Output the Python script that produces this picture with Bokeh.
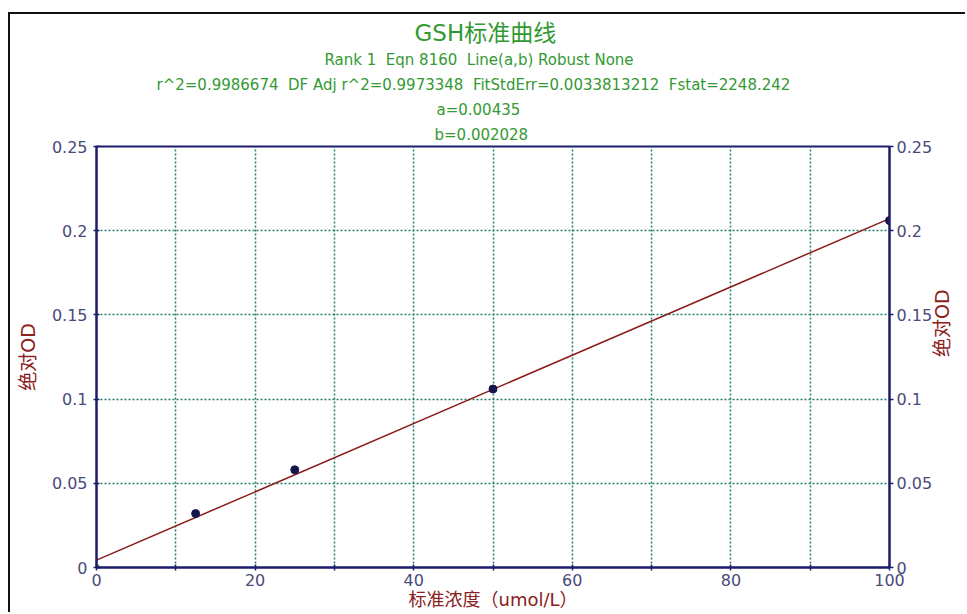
import math
from bokeh.plotting import figure
from bokeh.models import Range1d, LinearAxis, FixedTicker, Title
from bokeh.embed import file_html
from bokeh.resources import INLINE

# ---- data ----
std_conc = [12.5, 25, 50, 100]
std_od = [0.032, 0.058, 0.106, 0.206]
zero_conc = [0]
zero_od = [0.0]
fit_conc = [0, 100]
fit_od = [0.00435, 0.2072]

x_ticks = [0, 20, 40, 60, 80, 100]
x_minor = [10, 30, 50, 70, 90]
x_grid = [10, 20, 30, 40, 50, 60, 70, 80, 90]
y_ticks = [0, 0.05, 0.1, 0.15, 0.2, 0.25]
y_tick_labels = ["0", "0.05", "0.1", "0.15", "0.2", "0.25"]
y_grid = [0.05, 0.1, 0.15, 0.2]

title_lines = [
    "GSH标准曲线",
    "Rank 1  Eqn 8160  Line(a,b) Robust None",
    "r^2=0.9986674  DF Adj r^2=0.9973348  FitStdErr=0.0033813212  Fstat=2248.242",
    "a=0.00435",
    "b=0.002028",
]
y_label = "绝对OD"
x_label = "标准浓度（umol/L）"

FONT = "DejaVu Sans, Noto Sans CJK SC"
AXIS_COLOR = "#1c1c6c"
TICK_COLOR = "#4a4a7a"
GRID_COLOR = "#237f68"
GREEN = "#339933"
DARKRED = "#8b2020"

p = figure(width=957, height=600, x_range=Range1d(0, 100), y_range=Range1d(0, 0.25),
           output_backend="svg", toolbar_location=None,
           min_border_left=86, min_border_right=76, min_border_top=132, min_border_bottom=47)
p.styles = {"border-left": "2px solid #111111", "border-top": "2px solid #111111",
            "margin-top": "12px", "margin-left": "8px"}
p.background_fill_color = "white"
p.border_fill_color = "white"
p.outline_line_color = AXIS_COLOR
p.outline_line_width = 2

# grids
p.xgrid.ticker = FixedTicker(ticks=x_grid)
p.ygrid.ticker = FixedTicker(ticks=y_grid)
for g in (p.xgrid, p.ygrid):
    g.grid_line_color = GRID_COLOR
    g.grid_line_dash = "2 2"
    g.grid_line_width = 1.5

# axes
def style_axis(ax, tin, tout, standoff):
    ax.axis_line_color = AXIS_COLOR
    ax.axis_line_width = 2
    ax.major_tick_line_color = AXIS_COLOR
    ax.minor_tick_line_color = AXIS_COLOR
    ax.major_tick_line_width = 1.5
    ax.minor_tick_line_width = 1.5
    ax.major_tick_in = tin
    ax.major_tick_out = tout
    ax.minor_tick_in = tin
    ax.minor_tick_out = tout
    ax.major_label_standoff = standoff
    ax.major_label_text_font = FONT
    ax.major_label_text_font_size = "16px"
    ax.major_label_text_color = TICK_COLOR
    ax.axis_label_text_font = FONT
    ax.axis_label_text_font_style = "normal"
    ax.axis_label_text_color = DARKRED

xax = p.xaxis[0]
xax.ticker = FixedTicker(ticks=x_ticks, minor_ticks=x_minor)
style_axis(xax, 3, 3, 3)
xax.axis_label = x_label
xax.axis_label_text_font_size = "18px"
xax.axis_label_standoff = 0

yax = p.yaxis[0]
yax.ticker = FixedTicker(ticks=y_ticks)
yax.major_label_overrides = {t: s for t, s in zip(y_ticks, y_tick_labels)}
style_axis(yax, 3, 3, 6)
yax.axis_label = y_label
yax.axis_label_text_font_size = "19px"
yax.axis_label_standoff = 10

rax = LinearAxis(ticker=FixedTicker(ticks=y_ticks))
rax.major_label_overrides = {t: s for t, s in zip(y_ticks, y_tick_labels)}
style_axis(rax, 0, 4, 3)
rax.axis_label = y_label
rax.axis_label_text_font_size = "19px"
rax.axis_label_standoff = 7
if "axis_label_orientation" in rax.properties():
    rax.axis_label_orientation = math.pi / 2
rax.axis_label_text_baseline = "top"
p.add_layout(rax, "right")

# fit line and points
p.line(fit_conc, fit_od, line_color="#8b1a1a", line_width=1.5)
p.scatter(std_conc, std_od, size=8, fill_color="#14144e", line_color="#14144e")
p.scatter(zero_conc, zero_od, size=6, fill_color="#228b22", line_color="#228b22")

# title block: added bottom-up so the first line ends on top
sizes = ["23px", "15px", "15px", "15px", "15px"]
standoffs = [2, 5, 5, 5, 5]
left_offsets = [318, 228, 60, 340, 338]
for txt, fs, so, off in reversed(list(zip(title_lines, sizes, standoffs, left_offsets))):
    shown = txt.replace("  ", " \u00a0")
    p.add_layout(Title(text=shown, align="left", offset=off, standoff=so,
                       text_font=FONT, text_font_size=fs, text_font_style="normal",
                       text_color=GREEN), "above")

open("out.html", "w").write(file_html(p, INLINE))
